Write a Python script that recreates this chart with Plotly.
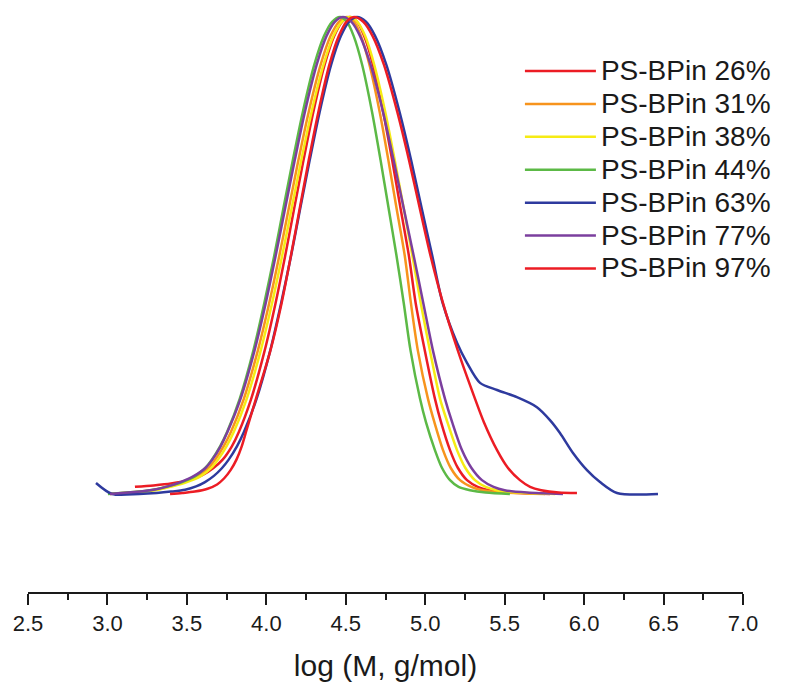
import plotly.graph_objects as go

# ---- data (log M, normalized response) ----
labels = ["PS-BPin 26%", "PS-BPin 31%", "PS-BPin 38%", "PS-BPin 44%",
          "PS-BPin 63%", "PS-BPin 77%", "PS-BPin 97%"]
colors = ["#EC1C24", "#F7941D", "#F6EB14", "#5CB946", "#2E3A9E", "#7B3F9E", "#EC1C24"]

x_26 = [3.173, 3.29, 3.40, 3.52, 3.60, 3.665, 3.725, 3.783, 3.827, 3.905, 3.989, 4.058,
        4.119, 4.176, 4.234, 4.295, 4.367, 4.427, 4.477, 4.526, 4.571, 4.616, 4.671, 4.736,
        4.792, 4.844, 4.897, 4.940, 4.998, 5.061, 5.10, 5.156, 5.205, 5.263, 5.33, 5.40,
        5.54, 5.785]
y_26 = [0.015, 0.018, 0.022, 0.030, 0.040, 0.054, 0.072, 0.10, 0.13, 0.2, 0.3, 0.4,
        0.5, 0.6, 0.7, 0.8, 0.9, 0.96, 0.99, 1.0, 0.99, 0.96, 0.9, 0.8,
        0.7, 0.6, 0.5, 0.4, 0.3, 0.2, 0.15, 0.092, 0.055, 0.029, 0.015, 0.008,
        0.003, 0.0]

x_31 = [3.016, 3.18, 3.30, 3.39, 3.48, 3.57, 3.634, 3.678, 3.731, 3.777, 3.859, 3.946,
        4.018, 4.082, 4.142, 4.202, 4.266, 4.342, 4.404, 4.457, 4.508, 4.552, 4.596, 4.649,
        4.714, 4.768, 4.819, 4.871, 4.910, 4.954, 5.017, 5.058, 5.112, 5.160, 5.219, 5.29,
        5.36, 5.50, 5.754]
y_31 = [0.0, 0.004, 0.009, 0.016, 0.025, 0.038, 0.054, 0.072, 0.10, 0.13, 0.2, 0.3,
        0.4, 0.5, 0.6, 0.7, 0.8, 0.9, 0.96, 0.99, 1.0, 0.99, 0.96, 0.9,
        0.8, 0.7, 0.6, 0.5, 0.4, 0.3, 0.2, 0.15, 0.092, 0.055, 0.029, 0.015,
        0.008, 0.003, 0.0]

x_38 = [3.066, 3.20, 3.32, 3.41, 3.50, 3.59, 3.652, 3.696, 3.749, 3.795, 3.877, 3.964,
        4.036, 4.100, 4.160, 4.220, 4.284, 4.360, 4.422, 4.475, 4.526, 4.573, 4.622, 4.679,
        4.749, 4.808, 4.864, 4.919, 4.972, 5.030, 5.093, 5.14, 5.200, 5.252, 5.313, 5.38,
        5.45, 5.59, 5.817]
y_38 = [0.0, 0.004, 0.009, 0.016, 0.025, 0.038, 0.054, 0.072, 0.10, 0.13, 0.2, 0.3,
        0.4, 0.5, 0.6, 0.7, 0.8, 0.9, 0.96, 0.99, 1.0, 0.99, 0.96, 0.9,
        0.8, 0.7, 0.6, 0.5, 0.4, 0.3, 0.2, 0.15, 0.092, 0.055, 0.029, 0.015,
        0.008, 0.003, 0.0]

x_44 = [3.003, 3.17, 3.29, 3.38, 3.47, 3.555, 3.614, 3.657, 3.709, 3.753, 3.833, 3.918,
        3.987, 4.050, 4.108, 4.167, 4.229, 4.302, 4.363, 4.414, 4.464, 4.507, 4.550, 4.603,
        4.666, 4.719, 4.769, 4.819, 4.865, 4.908, 4.967, 5.005, 5.061, 5.105, 5.156, 5.21,
        5.282, 5.38, 5.533]
y_44 = [0.0, 0.004, 0.009, 0.016, 0.025, 0.038, 0.054, 0.072, 0.10, 0.13, 0.2, 0.3,
        0.4, 0.5, 0.6, 0.7, 0.8, 0.9, 0.96, 0.99, 1.0, 0.99, 0.96, 0.9,
        0.8, 0.7, 0.6, 0.5, 0.4, 0.3, 0.2, 0.15, 0.092, 0.055, 0.029, 0.015,
        0.008, 0.003, 0.0]

x_63 = [2.928, 3.029, 3.20, 3.31, 3.40, 3.489, 3.558, 3.614, 3.670, 3.720, 3.763, 3.815,
        3.859, 3.939, 4.024, 4.093, 4.156, 4.214, 4.273, 4.335, 4.408, 4.469, 4.520, 4.570,
        4.627, 4.685, 4.755, 4.839, 4.911, 4.977, 5.044, 5.110, 5.200, 5.263, 5.345, 5.452,
        5.577, 5.703, 5.785, 5.848, 5.930, 6.018, 6.100, 6.207, 6.465]
y_63 = [0.023, 0.0, 0.0, 0.002, 0.005, 0.009, 0.016, 0.025, 0.038, 0.054, 0.072, 0.10,
        0.13, 0.2, 0.3, 0.4, 0.5, 0.6, 0.7, 0.8, 0.9, 0.96, 0.99, 1.0,
        0.99, 0.96, 0.9, 0.8, 0.7, 0.6, 0.5, 0.4, 0.317, 0.275, 0.233, 0.218,
        0.203, 0.182, 0.155, 0.128, 0.086, 0.050, 0.025, 0.002, 0.0]

x_77 = [3.016, 3.17, 3.29, 3.38, 3.46, 3.545, 3.615, 3.660, 3.712, 3.755, 3.838, 3.925,
        3.996, 4.059, 4.119, 4.179, 4.242, 4.317, 4.379, 4.431, 4.482, 4.536, 4.590, 4.656,
        4.735, 4.801, 4.864, 4.927, 4.988, 5.049, 5.124, 5.17, 5.231, 5.29, 5.357, 5.43,
        5.50, 5.64, 5.867]
y_77 = [0.0, 0.004, 0.009, 0.016, 0.025, 0.038, 0.054, 0.072, 0.10, 0.13, 0.2, 0.3,
        0.4, 0.5, 0.6, 0.7, 0.8, 0.9, 0.96, 0.99, 1.0, 0.99, 0.96, 0.9,
        0.8, 0.7, 0.6, 0.5, 0.4, 0.3, 0.2, 0.15, 0.092, 0.055, 0.029, 0.015,
        0.008, 0.003, 0.0]

x_97 = [3.394, 3.47, 3.55, 3.63, 3.69, 3.735, 3.775, 3.812, 3.845, 3.872, 3.935, 4.025,
        4.096, 4.155, 4.211, 4.267, 4.327, 4.397, 4.456, 4.504, 4.552, 4.610, 4.669, 4.740,
        4.825, 4.898, 4.965, 5.033, 5.112, 5.206, 5.313, 5.37, 5.452, 5.52, 5.596, 5.66,
        5.73, 5.84, 5.955]
y_97 = [0.0, 0.002, 0.005, 0.011, 0.020, 0.033, 0.050, 0.072, 0.10, 0.13, 0.2, 0.3,
        0.4, 0.5, 0.6, 0.7, 0.8, 0.9, 0.96, 0.99, 1.0, 0.99, 0.96, 0.9,
        0.8, 0.7, 0.6, 0.5, 0.4, 0.3, 0.2, 0.15, 0.092, 0.055, 0.029, 0.015,
        0.008, 0.003, 0.002]

series_x = [x_26, x_31, x_38, x_44, x_63, x_77, x_97]
series_y = [y_26, y_31, y_38, y_44, y_63, y_77, y_97]

tick_vals = [2.5, 3.0, 3.5, 4.0, 4.5, 5.0, 5.5, 6.0, 6.5, 7.0]
tick_text = ["2.5", "3.0", "3.5", "4.0", "4.5", "5.0", "5.5", "6.0", "6.5", "7.0"]

FONT = "Liberation Sans, Arial, sans-serif"
INK = "#1a1a1a"

fig = go.Figure()
for name, col, xs, ys in zip(labels, colors, series_x, series_y):
    fig.add_trace(go.Scatter(
        x=xs, y=ys, mode="lines",
        name="<span style='font-size:28px'>" + name + "</span>",
        line=dict(color=col, width=2.5, shape="spline", smoothing=0.8),
    ))

fig.update_layout(
    width=787, height=682,
    margin=dict(l=20, r=52, t=2, b=98),
    paper_bgcolor="white", plot_bgcolor="white",
    font=dict(family=FONT, color=INK),
    showlegend=True,
    legend=dict(
        x=0.688, y=0.932, xanchor="left", yanchor="top",
        font=dict(size=23, family=FONT, color=INK),
        itemwidth=71, tracegroupgap=0, bgcolor="rgba(0,0,0,0)",
    ),
    xaxis=dict(
        range=[2.5, 7.0], tickvals=tick_vals, ticktext=tick_text,
        showline=True, linecolor=INK, linewidth=1.5,
        ticks="outside", ticklen=11, tickwidth=1.5, tickcolor=INK,
        minor=dict(ticks="outside", ticklen=6, dtick=0.25, tick0=2.5,
                   tickwidth=1.5, tickcolor=INK, showgrid=False),
        showgrid=False, zeroline=False,
        tickfont=dict(size=22, family=FONT, color=INK),
        title=dict(text="log (M, g/mol)", font=dict(size=30, family=FONT, color=INK),
                   standoff=20),
    ),
    yaxis=dict(range=[-0.2055, 1.0147], visible=False),
)

fig.write_html("out.html")
